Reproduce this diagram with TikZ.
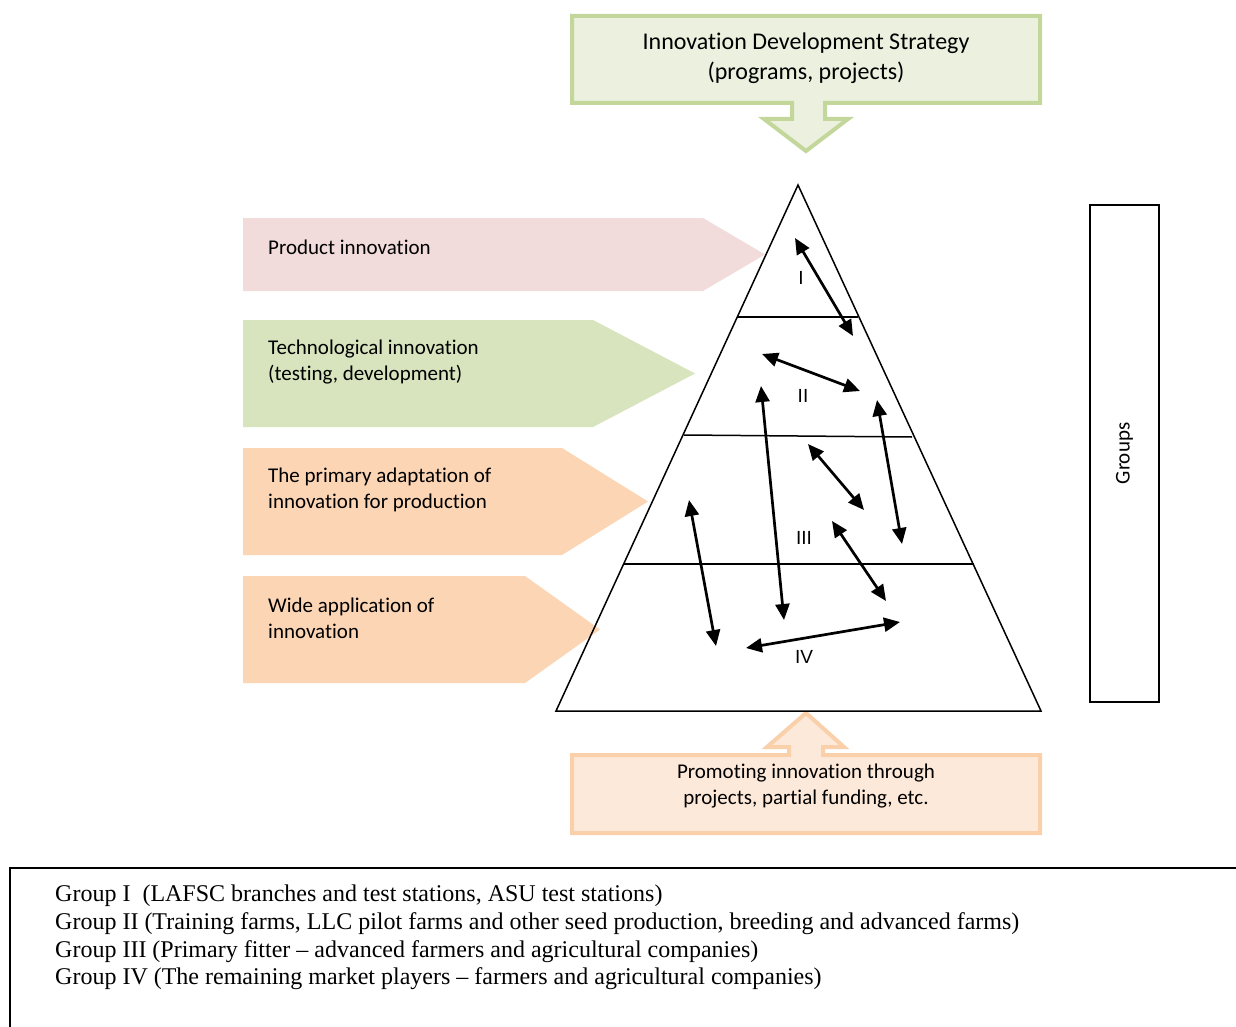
\documentclass[tikz,border=0pt]{standalone}
\usepackage{fontspec}
\setmainfont[Ligatures={NoCommon}]{Carlito}
\newfontfamily\tnr[Ligatures=TeX]{Liberation Serif}
\newfontfamily\arl{Liberation Sans}
\usetikzlibrary{arrows.meta}
\definecolor{topfill}{HTML}{EBF1DE}
\definecolor{topdraw}{HTML}{C4D79B}
\definecolor{pinkfill}{HTML}{F2DCDB}
\definecolor{greenfill}{HTML}{D7E4BD}
\definecolor{orangefill}{HTML}{FCD5B5}
\definecolor{botfill}{HTML}{FDE9D9}
\definecolor{botdraw}{HTML}{FAD0AA}
\tikzset{
  lbl/.style={anchor=west, align=left, inner sep=0pt, font=\fontsize{21}{26}\selectfont},
  num/.style={inner sep=0pt, font=\arl\fontsize{19}{19}\selectfont},
  dbl/.style={{Triangle[length=16pt,width=14pt]}-{Triangle[length=16pt,width=14pt]}, line width=2.7pt},
  pyr/.style={line width=1.5pt, line join=miter},
}
\begin{document}
\begin{tikzpicture}[x=1pt,y=-1pt]
\useasboundingbox (0,0) rectangle (1236,1027);
\fill[white] (0,0) rectangle (1236,1027);

% top callout
\draw[line width=4pt, draw=topdraw, fill=topfill, line join=miter]
  (572,16) -- (1040,16) -- (1040,103) -- (825,103) -- (825,119) -- (848,119)
  -- (806,151) -- (764,119) -- (792,119) -- (792,103) -- (572,103) -- cycle;
\node[align=center, inner sep=0pt, font=\fontsize{24}{30}\selectfont] (strat) at (806,58)
  {Innovation Development Strategy\\(programs, projects)};

% bottom callout
\draw[line width=4pt, draw=botdraw, fill=botfill, line join=miter]
  (572,755) -- (789,755) -- (789,747) -- (767,747) -- (806,713) -- (844,747)
  -- (823,747) -- (823,755) -- (1040,755) -- (1040,833) -- (572,833) -- cycle;
\node[align=center, inner sep=0pt, font=\fontsize{21}{26}\selectfont] (prom) at (806,786)
  {Promoting innovation through\\projects, partial funding, etc.};

% left pentagons
\fill[pinkfill] (243,218) -- (703,218) -- (765,254.5) -- (703,291) -- (243,291) -- cycle;
\fill[greenfill] (243,320) -- (593,320) -- (695,373.5) -- (593,427) -- (243,427) -- cycle;
\fill[orangefill] (243,448) -- (562,448) -- (648,501.5) -- (562,555) -- (243,555) -- cycle;
\fill[orangefill] (243,576) -- (525,576) -- (600,629.5) -- (525,683) -- (243,683) -- cycle;
\node[lbl] (t1) at (268,247) {Product innovation};
\node[lbl] (t2) at (268,362) {Technological innovation\\(testing, development)};
\node[lbl] (t3) at (268,490) {The primary adaptation of\\innovation for production};
\node[lbl] (t4) at (268,618) {Wide application of\\innovation};

% pyramid
\coordinate (apex) at (798,185);
\coordinate (bl) at (556,711);
\coordinate (br) at (1041,711);
\draw[pyr] (apex) -- (br) -- (bl) -- cycle;
\coordinate (l1a) at (737,317); \coordinate (l1b) at (858,317);
\coordinate (l2a) at (684,435); \coordinate (l2b) at (912,437);
\coordinate (l3a) at (623,564); \coordinate (l3b) at (974,564);
\draw[line width=1.5pt] (l1a) -- (l1b);
\draw[line width=1.5pt] (l2a) -- (l2b);
\draw[line width=1.5pt] (l3a) -- (l3b);

\node[num] (n1) at (801,278) {I};
\node[num] (n2) at (803,396) {II};
\node[num] (n3) at (804,538) {III};
\node[num] (n4) at (804,657) {IV};

% double arrows
\coordinate (a1s) at (795,238); \coordinate (a1e) at (853,336);
\coordinate (a2s) at (762,354); \coordinate (a2e) at (860,391);
\coordinate (a3s) at (761,386); \coordinate (a3e) at (784,620);
\coordinate (a4s) at (877,400); \coordinate (a4e) at (902,544);
\coordinate (a5s) at (808,444); \coordinate (a5e) at (864,510);
\coordinate (a6s) at (832,521); \coordinate (a6e) at (886,601);
\coordinate (a7s) at (689,500); \coordinate (a7e) at (716,646);
\coordinate (a8s) at (746,648); \coordinate (a8e) at (900,622);
\foreach \i in {1,...,8} \draw[dbl] (a\i s) -- (a\i e);

% groups box
\node[draw, line width=2pt, rotate=90, minimum width=497pt, minimum height=69pt, inner sep=0pt,
  font=\fontsize{21}{21}\selectfont] (groups) at (1124.5,453.5) {Groups};

% legend box
\coordinate (lgtr) at (1236,868);
\coordinate (lgtl) at (10,868);
\coordinate (lgbl) at (10,1027);
\draw[line width=1.5pt] (lgtr) -- (lgtl) -- (lgbl);
\node[anchor=north west, align=left, inner sep=0pt, font=\tnr\fontsize{24}{27.7}\selectfont] (legend) at (55,885)
  {Group I\ \ (LAFSC branches and test stations, ASU test stations)\\
   Group II (Training farms, LLC pilot farms and other seed production, breeding and advanced farms)\\
   Group III (Primary fitter – advanced farmers and agricultural companies)\\
   Group IV (The remaining market players – farmers and agricultural companies)};
\end{tikzpicture}
\end{document}
